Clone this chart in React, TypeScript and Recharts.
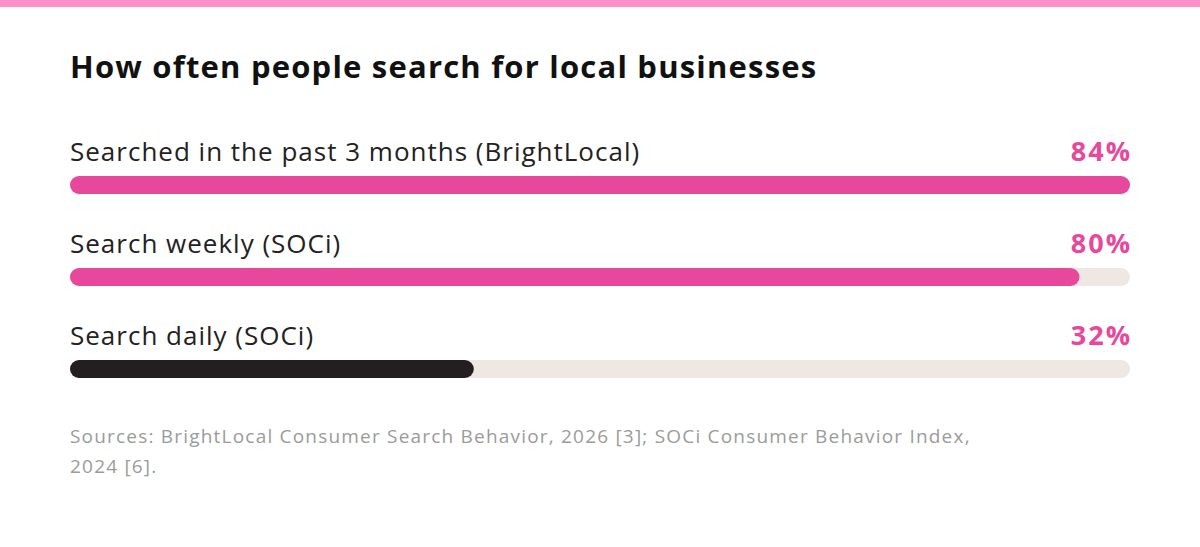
import { Bar, BarChart, XAxis, YAxis } from "recharts";

const categories = ["Searched in the past 3 months (BrightLocal)", "Search weekly (SOCi)", "Search daily (SOCi)"];
const shares = [84, 80, 32];
const barColors = ["#e8489b", "#e8489b", "#231f20"];
const domainMax = 84;

const title = "How often people search for local businesses";
const sourceLines = ["Sources: BrightLocal Consumer Search Behavior, 2026 [3]; SOCi Consumer Behavior Index,", "2024 [6]."];

const rows = categories.map((name, i) => ({ name, share: shares[i], color: barColors[i] }));

const FONT = "'Open Sans', 'Noto Sans', sans-serif";

function TrackBar(props: any) {
  const { x, y, width, height, background, payload } = props;
  const trackRight = background ? background.x + background.width : x + (width * domainMax) / payload.share;
  const r = height / 2;
  return (
    <g>
      <rect x={x} y={y} width={Math.max(width, height)} height={height} rx={r} ry={r} fill={payload.color} />
      <text x={x} y={y - 15} fontFamily={FONT} fontSize={26} fontWeight={500} letterSpacing={1} fill="#222">
        {payload.name}
      </text>
      <text x={trackRight + 2} y={y - 15} textAnchor="end" fontFamily={FONT} fontSize={27} fontWeight={700} letterSpacing={2} fill="#e8489b">
        {payload.share}%
      </text>
    </g>
  );
}

export default function App() {
  return (
    <div style={{ position: "relative", width: 1200, height: 547, background: "#fff", overflow: "hidden" }}>
      <style>{`body{margin:0}`}</style>
      <div style={{ position: "absolute", left: 0, top: 0, width: 1200, height: 7, background: "#ff8fc8" }} />
      <svg width={1200} height={547} style={{ position: "absolute", left: 0, top: 0 }}>
        <text x={70} y={78} fontFamily={FONT} fontSize={31} fontWeight={700} letterSpacing={1.2} fill="#111">
          {title}
        </text>
        {sourceLines.map((line, i) => (
          <text key={i} x={70} y={443 + i * 30} fontFamily={FONT} fontSize={19} letterSpacing={1.2} fill="#9b9b9b">
            {line}
          </text>
        ))}
      </svg>
      <div style={{ position: "absolute", left: 0, top: 0 }}>
        <BarChart width={1200} height={547} data={rows} layout="vertical" margin={{ top: 139, right: 70, bottom: 132, left: 70 }}>
          <XAxis type="number" domain={[0, domainMax]} hide />
          <YAxis type="category" dataKey="name" hide />
          <Bar dataKey="share" barSize={18} background={{ fill: "#efe7e1", radius: 9 }} shape={TrackBar} isAnimationActive={false} />
        </BarChart>
      </div>
    </div>
  );
}
